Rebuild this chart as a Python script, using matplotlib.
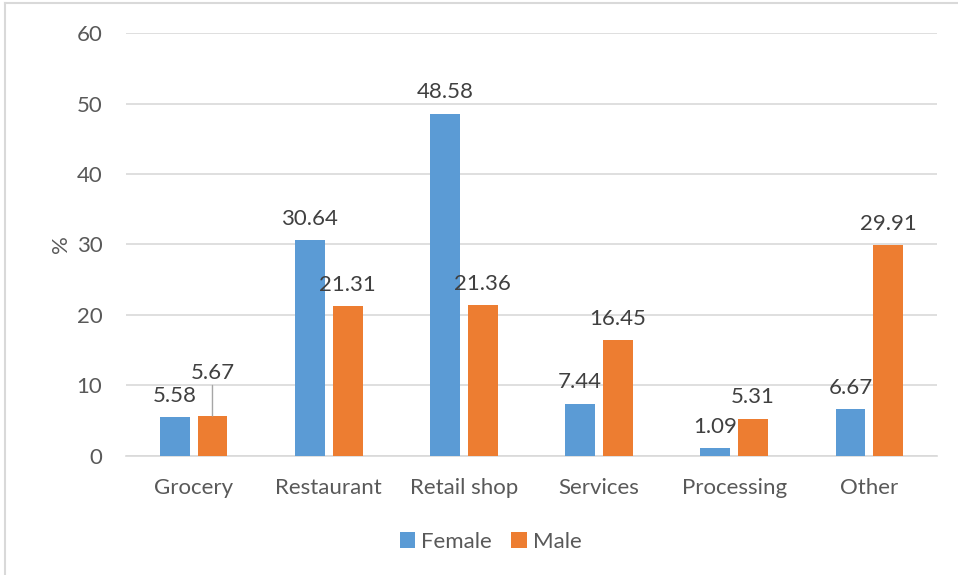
import matplotlib
matplotlib.use('Agg')
import matplotlib.pyplot as plt
from matplotlib.lines import Line2D
import numpy as np

categories = ['Grocery', 'Restaurant', 'Retail shop', 'Services', 'Processing', 'Other']
female = [5.58, 30.64, 48.58, 7.44, 1.09, 6.67]
male = [5.67, 21.31, 21.36, 16.45, 5.31, 29.91]
y_ticks = [0, 10, 20, 30, 40, 50, 60]

BLUE = '#5B9BD5'
ORANGE = '#ED7D31'
TEXT = '#595959'
GRID = '#D9D9D9'
FS = 16

plt.rcParams['font.family'] = ['Lato', 'DejaVu Sans']

fig = plt.figure(figsize=(9.58, 5.75), dpi=100)
ax = fig.add_axes([0.1315, 0.207, 0.8465, 0.7356])

x = np.arange(len(categories))
w = 0.22
off = 0.14
b1 = ax.bar(x - off, female, w, color=BLUE, label='Female', zorder=3)
b2 = ax.bar(x + off, male, w, color=ORANGE, label='Male', zorder=3)

# data labels
for xi, v in zip(x - off, female):
    ax.annotate(f'{v:.2f}', (xi, v), xytext=(0, 8), textcoords='offset points',
                ha='center', va='bottom', fontsize=FS, color='#404040')
for i, (xi, v) in enumerate(zip(x + off, male)):
    if i == 0:
        # label moved up with a leader line
        ax.annotate(f'{v:.2f}', (xi, v), xytext=(0, 24), textcoords='offset points',
                    ha='center', va='bottom', fontsize=FS, color='#404040',
                    arrowprops=dict(arrowstyle='-', color='#A6A6A6', lw=1,
                                    shrinkA=0, shrinkB=0))
    else:
        ax.annotate(f'{v:.2f}', (xi, v), xytext=(0, 8), textcoords='offset points',
                    ha='center', va='bottom', fontsize=FS, color='#404040')

ax.set_xlim(-0.5, len(categories) - 0.5)
ax.set_ylim(0, 60)
ax.set_yticks(y_ticks)
ax.set_xticks(x)
ax.set_xticklabels(categories)
ax.tick_params(axis='both', length=0, labelsize=FS, labelcolor=TEXT)
ax.tick_params(axis='x', pad=16)
ax.tick_params(axis='y', pad=17)
ax.yaxis.grid(True, color=GRID, lw=1.2, zorder=0)
ax.set_axisbelow(True)
for s in ['top', 'right', 'left']:
    ax.spines[s].set_visible(False)
ax.spines['bottom'].set_color(GRID)
ax.spines['bottom'].set_linewidth(1.2)

ax.set_ylabel('%', fontsize=FS, color=TEXT, labelpad=4)

fig.legend(handles=[b1, b2], loc='center', bbox_to_anchor=(0.512, 0.058), ncol=2,
           frameon=False, fontsize=FS, labelcolor=TEXT, handlelength=0.7,
           handleheight=0.7, handletextpad=0.25, columnspacing=0.9)

# chart border (left and top visible)
fig.add_artist(Line2D([0.0057, 0.0057], [0, 0.995], color=GRID, lw=1.5))
fig.add_artist(Line2D([0.0057, 1.0], [0.995, 0.995], color=GRID, lw=1.5))

fig.savefig('out.png', dpi=100)
